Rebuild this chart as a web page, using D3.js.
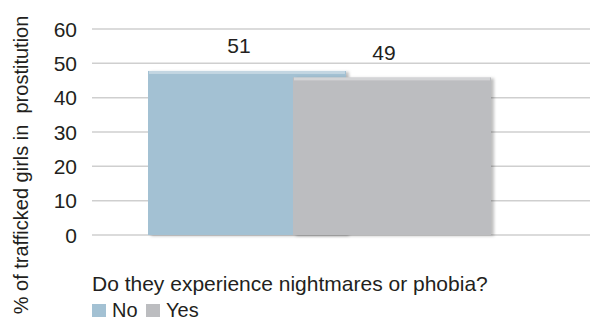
<!DOCTYPE html>
<html>
<head>
<meta charset="utf-8">
<script src="https://cdn.jsdelivr.net/npm/d3@7"></script>
<style>
  body { margin: 0; background: #fff; }
  svg { display: block; font-family: "Liberation Sans", Arial, sans-serif; }
  .grid line { stroke: #cfcfcf; stroke-width: 1.5px; }
</style>
</head>
<body>
<svg id="chart" width="592" height="322"></svg>
<script>
// data
var series = ["No", "Yes"];
var values = [51, 49];
var colors = ["#a3c1d3", "#bcbdc0"];
var yTicks = [0, 10, 20, 30, 40, 50, 60];
var yTitle = "% of trafficked girls in  prostitution";
var xTitle = "Do they experience nightmares or phobia?";

var svg = d3.select("#chart");
var fs = 21;

// back wall scale (gridlines) and front face scale (3d bars sit lower)
var y = d3.scaleLinear().domain([0, 60]).range([235, 29]);
var yFront = d3.scaleLinear().domain([0, 60]).range([235, 42]);

var x = d3.scalePoint().domain(series).range([148, 293]);
var barW = 198;

var defs = svg.append("defs");
var f = defs.append("filter").attr("id", "shadow")
  .attr("x", "-5%").attr("y", "-5%").attr("width", "115%").attr("height", "115%");
f.append("feDropShadow")
  .attr("dx", 3).attr("dy", 1).attr("stdDeviation", 1.6)
  .attr("flood-color", "#000").attr("flood-opacity", 0.25);

// gridlines
var grid = svg.append("g").attr("class", "grid");
grid.selectAll("line").data(yTicks).join("line")
  .attr("x1", 92).attr("x2", 590)
  .attr("y1", function (d) { return y(d); })
  .attr("y2", function (d) { return y(d); });

// y tick labels
svg.append("g").selectAll("text").data(yTicks).join("text")
  .attr("x", 77)
  .attr("y", function (d) { return y(d); })
  .attr("dy", "0.36em")
  .attr("text-anchor", "end")
  .attr("font-size", fs)
  .attr("fill", "#231f20")
  .text(function (d) { return d; });

// bars
var bars = svg.append("g").selectAll("g").data(values).join("g");
bars.append("rect")
  .attr("x", function (d, i) { return x(series[i]); })
  .attr("y", function (d) { return yFront(d); })
  .attr("width", barW)
  .attr("height", function (d) { return yFront(0) - yFront(d); })
  .attr("fill", function (d, i) { return colors[i]; })
  .attr("filter", "url(#shadow)");
// light bevel on top edge
bars.append("rect")
  .attr("x", function (d, i) { return x(series[i]) + 1; })
  .attr("y", function (d) { return yFront(d); })
  .attr("width", barW - 2)
  .attr("height", 3)
  .attr("fill", "#fff")
  .attr("opacity", 0.35);

// value labels
svg.append("g").selectAll("text").data(values).join("text")
  .attr("x", function (d, i) { return x(series[i]) + barW / 2 - 8; })
  .attr("y", function (d) { return y(d) - 7; })
  .attr("text-anchor", "middle")
  .attr("font-size", fs)
  .attr("fill", "#231f20")
  .text(function (d) { return d; });

// axis titles
svg.append("text")
  .attr("transform", "translate(28,165) rotate(-90)")
  .attr("text-anchor", "middle")
  .attr("font-size", 20)
  .attr("fill", "#231f20")
  .style("white-space", "pre")
  .text(yTitle);

svg.append("text")
  .attr("x", 92).attr("y", 291)
  .attr("font-size", fs)
  .attr("fill", "#231f20")
  .text(xTitle);

// legend
var legX = [92, 146];
var leg = svg.append("g").selectAll("g").data(series).join("g")
  .attr("transform", function (d, i) { return "translate(" + legX[i] + ",304)"; });
leg.append("rect").attr("width", 14).attr("height", 13)
  .attr("fill", function (d, i) { return colors[i]; });
leg.append("text").attr("x", 20).attr("y", 13)
  .attr("font-size", 20).attr("fill", "#231f20")
  .text(function (d) { return d; });
</script>
</body>
</html>
